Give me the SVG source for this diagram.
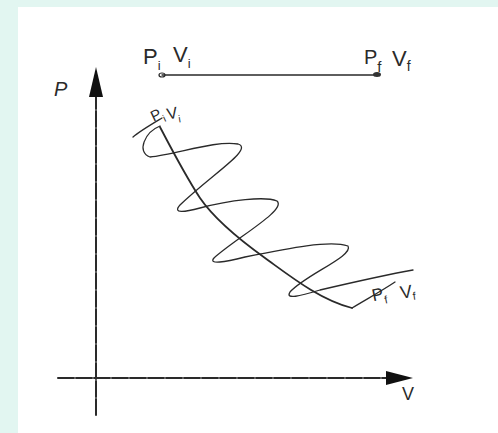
<svg xmlns="http://www.w3.org/2000/svg" width="498" height="433" viewBox="0 0 498 433">
  <defs>
    <style>
      .ink { fill: none; stroke: #2a2a2a; stroke-linecap: round; stroke-linejoin: round; }
      .axis { stroke-width: 2; stroke-dasharray: 16 2; }
      .thin { stroke-width: 1.3; }
      .lbl { font-family: "Liberation Sans", "DejaVu Sans", sans-serif; fill: #2a2a2a; }
    </style>
  </defs>
  <rect x="0" y="0" width="498" height="433" fill="#e2f6f1"/>
  <rect x="18" y="7" width="480" height="426" fill="#ffffff"/>

  <g id="p-axis">
    <line class="ink axis" x1="96" y1="415" x2="96" y2="96"/>
    <path d="M96,67 L103,97 L89,97 Z" fill="#111"/>
    <text class="lbl" x="54" y="96" font-size="20" font-style="italic">P</text>
  </g>

  <g id="v-axis">
    <line class="ink axis" x1="58" y1="378" x2="388" y2="378"/>
    <path d="M413,378 L386,371 L386,385 Z" fill="#111"/>
    <text class="lbl" x="402" y="400" font-size="18" font-family="Liberation Serif, serif">V</text>
  </g>

  <g id="top-line">
    <line class="ink thin" x1="162" y1="75" x2="377" y2="75"/>
    <ellipse cx="162" cy="75" rx="3" ry="2" class="ink" stroke-width="1.2"/>
    <ellipse cx="377" cy="74.5" rx="4" ry="2.5" fill="#333"/>
    <text class="lbl" x="143" y="64" font-size="22">P<tspan font-size="13" dy="6">i</tspan></text>
    <text class="lbl" x="173" y="62" font-size="22">V<tspan font-size="13" dy="6">i</tspan></text>
    <text class="lbl" x="364" y="64" font-size="20">P<tspan font-size="15" dy="8">f</tspan></text>
    <text class="lbl" x="392" y="66" font-size="22">V<tspan font-size="14" dy="5">f</tspan></text>
  </g>

  <g id="isotherm">
    <path class="ink" stroke-width="1.8" d="M160,127 C172,150 185,175 200,198 C215,220 240,240 265,258 C290,276 320,300 352,308"/>
  </g>

  <g id="spiral-path">
    <path class="ink thin" d="M133,137 C140,131 152,124 162,118 M160,126 C145,132 136,152 150,157 C175,155 215,140 238,144 C254,149 212,174 180,205 C172,214 185,212 200,208 C230,200 265,196 277,201 C287,210 236,238 214,258 C208,265 225,262 245,257 C290,248 330,240 348,246 C354,256 305,275 290,292 C285,300 300,296 320,290 C350,283 385,275 413,270"/>
    <path class="ink thin" d="M352,308 C365,300 380,292 395,282"/>
  </g>

  <g id="label-initial">
    <text class="lbl" x="150" y="118" font-size="15" transform="rotate(-25 160 112)">P<tspan font-size="10" dy="5">i</tspan></text>
    <text class="lbl" x="167" y="119" font-size="16" transform="rotate(-10 170 115)">V<tspan font-size="10" dy="5">i</tspan></text>
  </g>

  <g id="label-final">
    <text class="lbl" x="372" y="300" font-size="17" transform="rotate(-12 378 295)">P<tspan font-size="11" dy="5">f</tspan></text>
    <text class="lbl" x="400" y="298" font-size="18" transform="rotate(-8 405 292)">V<tspan font-size="11" dy="3">f</tspan></text>
  </g>
</svg>
